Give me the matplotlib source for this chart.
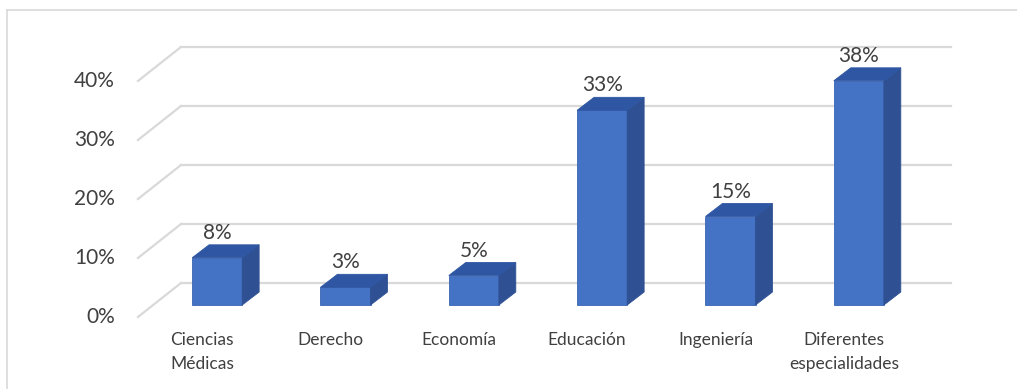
import matplotlib
matplotlib.use("Agg")
import matplotlib.pyplot as plt
from matplotlib.patches import Polygon
from matplotlib.lines import Line2D

categories = ["Ciencias\nMédicas", "Derecho", "Economía", "Educación",
              "Ingeniería", "Diferentes\nespecialidades"]
values = [8, 3, 5, 33, 15, 38]
y_ticks = [0, 10, 20, 30, 40]
y_tick_labels = ["0%", "10%", "20%", "30%", "40%"]

plt.rcParams['font.family'] = ['Lato', 'DejaVu Sans']

FRONT = "#4472C4"
SIDE = "#2F5194"
TOP = "#2E56A3"
GRID = "#D9D9D9"
TEXT = "#404040"

# fake 3d: offsets in data units (categories, percent)
bar_w = 0.39
bar_dx, bar_dy = 0.132, 2.2      # depth of each bar
wall_dx, wall_dy = 0.218, 3.73   # back wall behind the bars
front_dx, front_dy = -0.117, -2.03  # front edge of the floor

fig = plt.figure(figsize=(10.17, 3.89), dpi=100)
ax = fig.add_axes([153 / 1017, 1 - 305 / 389, 770 / 1017, 236 / 389])
ax.set_xlim(-0.5, len(categories) - 0.5)
ax.set_ylim(0, 40)
ax.axis("off")

# outer chart border (left and top only visible)
fig.add_artist(Line2D([7 / 1017, 7 / 1017], [0, 1 - 10 / 389], color=GRID, lw=1.2))
fig.add_artist(Line2D([7 / 1017, 1], [1 - 10 / 389, 1 - 10 / 389], color=GRID, lw=1.2))

x0, x1 = -0.5, len(categories) - 0.5
for t, lab in zip(y_ticks, y_tick_labels):
    # gridline on the back wall
    ax.plot([x0 + wall_dx, x1 + wall_dx], [t + wall_dy, t + wall_dy],
            color=GRID, lw=1.6, clip_on=False, zorder=1)
    # slanted line on the side wall
    ax.plot([x0 + front_dx, x0 + wall_dx], [t + front_dy, t + wall_dy],
            color=GRID, lw=1.6, clip_on=False, zorder=1)
    ax.annotate(lab, (x0 + front_dx, t + front_dy), xytext=(-23, 0),
                textcoords="offset pixels", ha="right", va="center",
                fontsize=15, color=TEXT, annotation_clip=False)

for i, (cat, v) in enumerate(zip(categories, values)):
    l, r = i - bar_w / 2, i + bar_w / 2
    front = Polygon([(l, 0), (r, 0), (r, v), (l, v)], closed=True,
                    fc=FRONT, ec="#3A65B4", lw=0.6, zorder=3, clip_on=False)
    side = Polygon([(r, 0), (r + bar_dx, bar_dy), (r + bar_dx, v + bar_dy), (r, v)],
                   closed=True, fc=SIDE, ec=SIDE, lw=0.6, zorder=3, clip_on=False)
    top = Polygon([(l, v), (r, v), (r + bar_dx, v + bar_dy), (l + bar_dx, v + bar_dy)],
                  closed=True, fc=TOP, ec=TOP, lw=0.6, zorder=3, clip_on=False)
    for p in (front, side, top):
        ax.add_patch(p)

    ax.annotate(f"{v}%", (i, v + bar_dy), xytext=(0, 2),
                textcoords="offset pixels", ha="center", va="bottom",
                fontsize=15, color=TEXT, annotation_clip=False, zorder=4)

    ax.annotate(cat, (i + front_dx, front_dy), xytext=(0, -15),
                textcoords="offset pixels", ha="center", va="top",
                fontsize=12.5, color=TEXT, linespacing=1.65,
                annotation_clip=False)

fig.savefig("out.png", dpi=100, facecolor="white")
